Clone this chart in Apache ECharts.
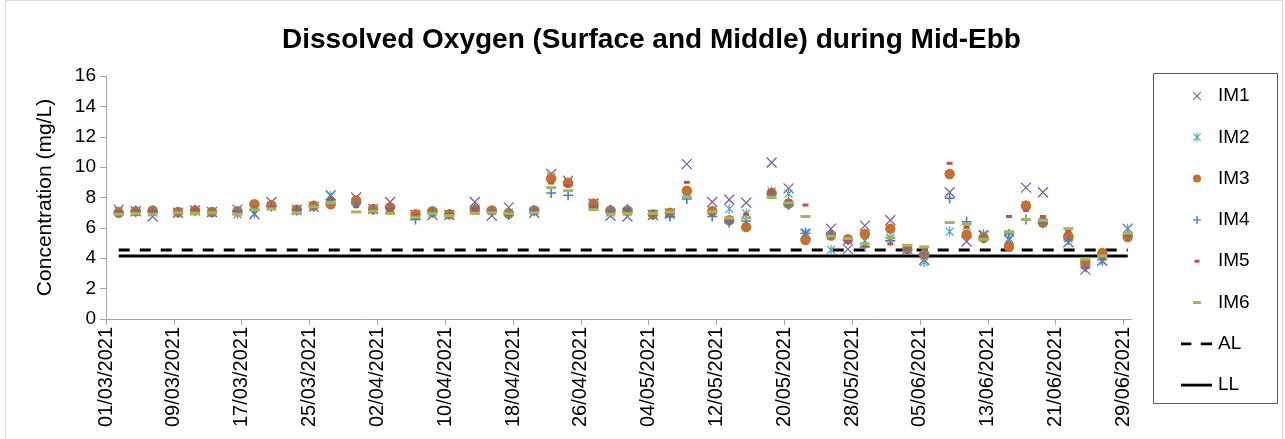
<!DOCTYPE html>
<html><head><meta charset="utf-8">
<script src="https://cdn.jsdelivr.net/npm/echarts@6/dist/echarts.min.js"></script>
<style>html,body{margin:0;padding:0;background:#fff}#c{width:1285px;height:439px}</style>
</head><body><div id="c"></div>
<script>
// ---------------- data ----------------
const dates = ['02/03/2021','04/03/2021','06/03/2021','09/03/2021','11/03/2021','13/03/2021','16/03/2021','18/03/2021','20/03/2021','23/03/2021','25/03/2021','27/03/2021','30/03/2021','01/04/2021','03/04/2021','06/04/2021','08/04/2021','10/04/2021','13/04/2021','15/04/2021','17/04/2021','20/04/2021','22/04/2021','24/04/2021','27/04/2021','29/04/2021','01/05/2021','04/05/2021','06/05/2021','08/05/2021','11/05/2021','13/05/2021','15/05/2021','18/05/2021','20/05/2021','22/05/2021','25/05/2021','27/05/2021','29/05/2021','01/06/2021','03/06/2021','05/06/2021','08/06/2021','10/06/2021','12/06/2021','15/06/2021','17/06/2021','19/06/2021','22/06/2021','24/06/2021','26/06/2021','29/06/2021'];
const IM1 = [7.2,7.1,6.75,7.0,7.15,7.05,7.2,6.9,7.7,7.2,7.4,8.15,8.0,7.25,7.7,6.85,6.85,6.85,7.7,6.8,7.35,7.0,9.55,9.1,7.6,6.8,6.75,6.85,6.95,10.2,7.7,7.85,7.65,10.3,8.6,5.6,5.95,4.6,6.15,6.5,4.6,3.9,8.35,5.1,5.5,5.2,8.65,8.35,5.05,3.25,3.85,5.95];
const IM2 = [7.1,7.05,7.0,7.0,7.1,7.0,6.9,6.95,7.4,7.1,7.35,8.1,7.7,7.2,7.3,6.8,7.0,6.9,7.2,7.1,7.0,7.1,9.35,9.0,7.5,7.0,7.05,6.85,6.9,8.3,7.15,7.25,6.95,8.4,8.25,5.7,4.55,5.2,5.15,5.35,4.6,3.75,5.75,6.1,5.6,5.3,7.5,6.4,5.3,3.55,3.8,5.95];
const IM3 = [7.0,7.1,7.15,7.05,7.15,7.05,7.1,7.55,7.5,7.2,7.45,7.55,7.8,7.25,7.35,6.9,7.1,6.9,7.2,7.15,6.95,7.15,9.25,8.95,7.6,7.15,7.15,6.9,7.0,8.45,7.1,6.5,6.05,8.3,7.6,5.2,5.5,5.25,5.6,5.95,4.6,4.25,9.55,5.55,5.35,4.75,7.45,6.35,5.45,3.75,4.35,5.4];
const IM4 = [7.05,7.15,7.1,7.0,7.2,7.05,7.1,7.2,7.4,7.2,7.45,7.85,7.6,7.2,7.3,6.55,7.0,6.9,7.3,7.1,6.85,7.15,8.3,8.15,7.45,7.2,7.25,6.85,6.75,7.9,6.75,6.35,6.45,8.25,7.5,5.65,5.6,5.2,4.75,5.15,4.55,4.3,7.95,6.4,5.3,5.6,6.55,6.3,5.2,3.4,3.9,5.5];
const IM5 = [7.05,7.1,7.05,7.0,7.2,7.0,7.0,7.2,7.35,7.15,7.4,7.95,7.4,7.15,7.2,6.85,6.95,6.85,7.2,7.05,6.9,7.05,8.95,8.8,7.35,7.0,7.1,6.85,6.95,9.0,6.95,6.5,6.9,8.4,7.75,7.5,5.4,5.1,4.8,4.95,4.7,4.65,10.25,6.05,5.3,6.75,7.15,6.75,5.8,3.35,4.05,5.55];
const IM6 = [6.9,6.95,6.9,7.0,6.95,7.0,6.9,7.2,7.25,7.0,7.4,7.65,7.05,7.1,6.95,6.7,6.95,6.8,6.95,7.0,6.95,7.0,8.65,8.45,7.2,6.9,6.95,6.95,7.05,8.05,7.05,6.65,6.65,8.0,7.65,6.75,5.45,5.3,4.95,5.35,4.85,4.75,6.35,6.25,5.25,5.75,6.55,6.5,5.95,3.95,4.15,5.65];
const AL_LEVEL = 4.54;
const LL_LEVEL = 4.15;
const xTickLabels = ['01/03/2021','09/03/2021','17/03/2021','25/03/2021','02/04/2021','10/04/2021','18/04/2021','26/04/2021','04/05/2021','12/05/2021','20/05/2021','28/05/2021','05/06/2021','13/06/2021','21/06/2021','29/06/2021'];
const seriesNames = ['IM1','IM2','IM3','IM4','IM5','IM6'];

// ---------------- helpers ----------------
const BASE = Date.UTC(2021, 2, 1);
function dayOff(s){ const p = s.split('/').map(Number); return (Date.UTC(p[2], p[1]-1, p[0]) - BASE) / 864e5; }
const tickVals = xTickLabels.map(dayOff);
const AXIS_MAX = dayOff('30/06/2021');
function pts(vals){ return dates.map((d,i)=>[dayOff(d)+0.5, vals[i]]); }
const r2 = v => Math.round(v*100)/100;
function bar(x1,y1,x2,y2,w){
  const dx=x2-x1, dy=y2-y1, L=Math.hypot(dx,dy), px=dy/L*w/2, py=-dx/L*w/2;
  return 'M'+r2(x1+px)+','+r2(y1+py)+'L'+r2(x2+px)+','+r2(y2+py)+'L'+r2(x2-px)+','+r2(y2-py)+'L'+r2(x1-px)+','+r2(y1-py)+'Z';
}
function sym(W,H,parts){ return 'path://M0,0M'+W+','+H+parts.join(''); }
function xShape(cx,cy,r,w){ return [bar(cx-r,cy-r,cx+r,cy+r,w), bar(cx-r,cy+r,cx+r,cy-r,w)]; }
function plusShape(cx,cy,r,w){ return [bar(cx,cy-r,cx,cy+r,w), bar(cx-r,cy,cx+r,cy,w)]; }
function starShape(cx,cy,r,rv,w){ return xShape(cx,cy,r,w).concat([bar(cx,cy-rv,cx,cy+rv,w)]); }

const markX = sym(12,12, xShape(6,6,5,1.3));
const markStar = sym(11,11, starShape(5.5,5.5,4,5,1.2));
const markPlus = sym(11,11, plusShape(5.5,5.5,5,1.6));

// legend icons in a 32x12 box, marker centred
const LW = 32, LH = 12;
const legX = sym(LW,LH, xShape(16,6,3.8,1.1));
const legStar = sym(LW,LH, starShape(16,6,3.6,4.5,1.1));
const legCircle = 'path://M0,0M'+LW+','+LH+'M12,6a4,4 0 1,0 8,0a4,4 0 1,0 -8,0Z';
const legPlus = sym(LW,LH, plusShape(16,6,4,1.4));
const legRed = sym(LW,LH, ['M13.5,4.5L18.5,4.5L18.5,7.5L13.5,7.5Z']);
const legGreen = sym(LW,LH, ['M12,4.5L20,4.5L20,7.5L12,7.5Z']);
const legDash = sym(LW,LH, ['M-2,4.5L9,4.5L9,7.5L-2,7.5Z','M19,4.5L31,4.5L31,7.5L19,7.5Z']);
const legSolid = sym(LW,LH, ['M-2,4.5L31,4.5L31,7.5L-2,7.5Z']);

const FONT = "'Liberation Sans', Arial, sans-serif";
const colors = ['#7a62a0','#45a5b8','#c7702e','#4a7ebb','#c0504d','#9bbb59'];
const symbols = [markX, markStar, 'circle', markPlus, 'rect', 'rect'];
const sizes = [12, 11, 10.5, 11, [6,3], [10,3]];
const legIcons = [legX, legStar, legCircle, legPlus, legRed, legGreen];
const values = [IM1, IM2, IM3, IM4, IM5, IM6];

const series = seriesNames.map((n,i)=>({
  name: n, type: 'scatter', data: pts(values[i]), symbol: symbols[i], symbolSize: sizes[i],
  itemStyle: { color: colors[i], opacity: 1 }, clip: false, z: 3, emphasis: { disabled: true }
}));
const first = dayOff(dates[0]) + 0.5, last = dayOff(dates[dates.length-1]) + 0.5;
series.push({ name: 'AL', type: 'line', data: [[first, AL_LEVEL],[last, AL_LEVEL]], symbol: 'none', clip: false, z: 2,
  lineStyle: { color: '#000', width: 3, type: [11,10], cap: 'butt' }, itemStyle: { color: '#000' }, silent: true });
series.push({ name: 'LL', type: 'line', data: [[first, LL_LEVEL],[last, LL_LEVEL]], symbol: 'none', clip: false, z: 2,
  lineStyle: { color: '#000', width: 3, type: 'solid' }, itemStyle: { color: '#000' }, silent: true });

const chart = echarts.init(document.getElementById('c'), null, { renderer: 'canvas' });
chart.setOption({
  animation: false,
  backgroundColor: '#fff',
  textStyle: { fontFamily: FONT },
  title: {
    text: 'Dissolved Oxygen (Surface and Middle) during Mid-Ebb',
    left: 282, top: 26, padding: 0,
    textStyle: { fontFamily: FONT, fontWeight: 'bold', fontSize: 28, color: '#000' }
  },
  graphic: [
    { type: 'rect', shape: { x: 5.5, y: 0.5, width: 1277, height: 460 }, style: { fill: 'none', stroke: '#d9d9d9', lineWidth: 1 }, silent: true, z: -10 },
    { type: 'rect', shape: { x: 1153.5, y: 73.5, width: 124, height: 330 }, style: { fill: 'none', stroke: '#595959', lineWidth: 1 }, silent: true }
  ],
  legend: {
    orient: 'vertical', left: 1181, top: 86.5, padding: 0,
    itemWidth: LW, itemHeight: LH, itemGap: 22.3, symbolKeepAspect: true,
    selectedMode: false,
    textStyle: { fontFamily: FONT, fontSize: 19, color: '#000' },
    data: seriesNames.map((n,i)=>({ name: n, icon: legIcons[i] })).concat([
      { name: 'AL', icon: legDash, itemStyle: { color: '#000' } },
      { name: 'LL', icon: legSolid, itemStyle: { color: '#000' } }
    ])
  },
  grid: { left: 106, right: 1285 - 106 - 8.479 * AXIS_MAX, top: 76, bottom: 120, containLabel: false },
  xAxis: {
    type: 'value', min: 0, max: AXIS_MAX, interval: 8,
    splitLine: { show: false },
    axisLine: { show: true, lineStyle: { color: '#a6a6a6', width: 1 } },
    axisTick: { show: true, length: 6, lineStyle: { color: '#a6a6a6' }, customValues: tickVals },
    axisLabel: {
      customValues: tickVals, rotate: 90, margin: 8, fontSize: 20, color: '#000', fontFamily: FONT,
      formatter: v => { const k = tickVals.indexOf(v); return k >= 0 ? xTickLabels[k] : ''; }
    }
  },
  yAxis: {
    type: 'value', min: 0, max: 16, interval: 2,
    name: 'Concentration (mg/L)', nameLocation: 'middle', nameGap: 50, nameRotate: 90,
    nameTextStyle: { fontSize: 21, color: '#000', fontFamily: FONT },
    splitLine: { show: false },
    axisLine: { show: true, lineStyle: { color: '#a6a6a6', width: 1 } },
    axisTick: { show: true, length: 6, lineStyle: { color: '#a6a6a6' } },
    axisLabel: { margin: 10, fontSize: 19, color: '#000', fontFamily: FONT }
  },
  series: series
});
</script>
</body></html>
